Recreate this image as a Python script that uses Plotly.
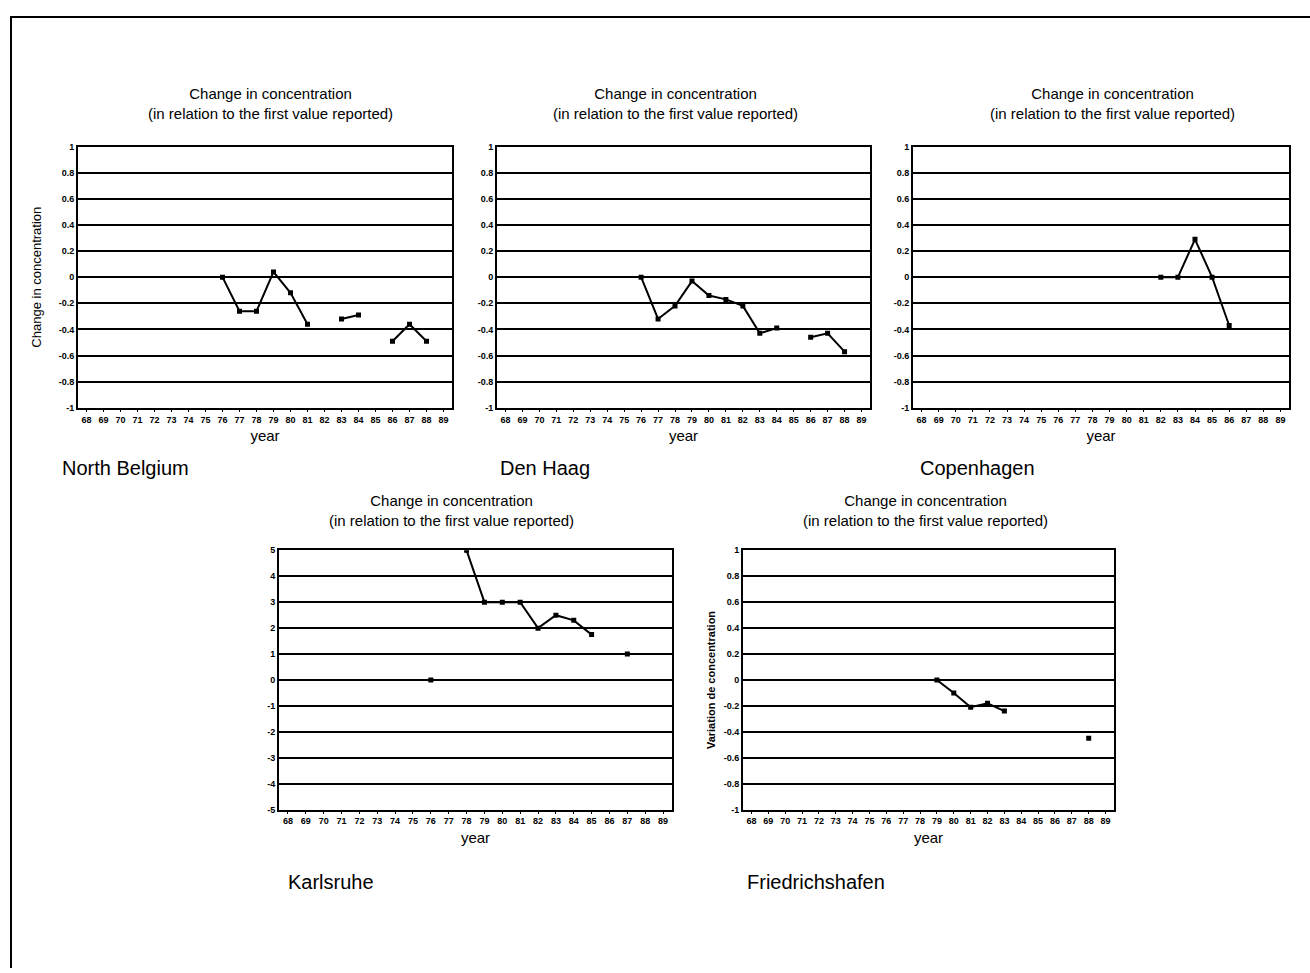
import plotly.graph_objects as go

years = list(range(68, 90))
year_labels = [str(y) for y in years]

nb_years = [76, 77, 78, 79, 80, 81, 82, 83, 84, 85, 86, 87, 88]
nb_vals = [0.0, -0.26, -0.26, 0.04, -0.12, -0.36, None, -0.32, -0.29, None, -0.49, -0.36, -0.49]

dh_years = [76, 77, 78, 79, 80, 81, 82, 83, 84, 85, 86, 87, 88]
dh_vals = [0.0, -0.32, -0.22, -0.03, -0.14, -0.17, -0.22, -0.43, -0.39, None, -0.46, -0.43, -0.57]

cp_years = [82, 83, 84, 85, 86]
cp_vals = [0.0, 0.0, 0.29, 0.0, -0.37]

ka_years = [76, 77, 78, 79, 80, 81, 82, 83, 84, 85, 86, 87]
ka_vals = [0.0, None, 5.0, 3.0, 3.0, 3.0, 2.0, 2.5, 2.3, 1.75, None, 1.0]

fr_years = [79, 80, 81, 82, 83, 84, 85, 86, 87, 88]
fr_vals = [0.0, -0.1, -0.21, -0.18, -0.24, None, None, None, None, -0.45]

small_ticks = [1, 0.8, 0.6, 0.4, 0.2, 0, -0.2, -0.4, -0.6, -0.8, -1]
small_ticktext = ["1", "0.8", "0.6", "0.4", "0.2", "0", "-0.2", "-0.4", "-0.6", "-0.8", "-1"]
big_ticks = [5, 4, 3, 2, 1, 0, -1, -2, -3, -4, -5]
big_ticktext = ["5", "4", "3", "2", "1", "0", "-1", "-2", "-3", "-4", "-5"]

W, H = 1310, 973
FONT = "Liberation Sans"

# panel boxes in pixels: (left, right, top, bottom)
panels = [
    dict(name="North Belgium", x=nb_years, y=nb_vals, box=(78, 452, 143, 407), ticks="small",
         ytitle="Change in concentration", ysize=13, city=(60, 468), tcx=270, tgap=23),
    dict(name="Den Haag", x=dh_years, y=dh_vals, box=(497, 870, 143, 407), ticks="small",
         ytitle=None, ysize=0, city=(498, 468), tcx=675, tgap=23),
    dict(name="Copenhagen", x=cp_years, y=cp_vals, box=(913, 1289, 143, 407), ticks="small",
         ytitle=None, ysize=0, city=(918, 468), tcx=1112, tgap=23),
    dict(name="Karlsruhe", x=ka_years, y=ka_vals, box=(279, 672, 551, 813), ticks="big",
         ytitle=None, ysize=0, city=(286, 886), tcx=452, tgap=20),
    dict(name="Friedrichshafen", x=fr_years, y=fr_vals, box=(743, 1114, 551, 813), ticks="small",
         ytitle="Variation de concentration", ysize=11, city=(745, 886), tcx=925, tgap=20),
]

fig = go.Figure()
layout = dict(
    width=W, height=H, margin=dict(l=0, r=0, t=0, b=0),
    paper_bgcolor="white", plot_bgcolor="white", showlegend=False,
    font=dict(family=FONT, color="black"),
)
annotations = []
shapes = []

for i, p in enumerate(panels):
    n = "" if i == 0 else str(i + 1)
    xa, ya = "x" + n, "y" + n
    l, r, t, b = p["box"]
    fig.add_trace(go.Scatter(
        x=p["x"], y=p["y"], xaxis=xa, yaxis=ya, mode="lines+markers",
        connectgaps=False,
        line=dict(color="black", width=2),
        marker=dict(symbol="square", size=5, color="black"),
        hoverinfo="x+y",
    ))
    if p["ticks"] == "small":
        tv, tt, rng = small_ticks, small_ticktext, [-1, 1]
    else:
        tv, tt, rng = big_ticks, big_ticktext, [-5, 5]
    layout["xaxis" + n] = dict(
        domain=[l / W, r / W], anchor=ya, range=[67.5, 89.5],
        tickvals=years, ticktext=year_labels,
        tickfont=dict(size=9, family=FONT, weight=700),
        showgrid=False, zeroline=False, showline=True, linecolor="black", linewidth=2,
        mirror=True, ticks="outside", ticklen=2, tickcolor="black",
        title=dict(text="year", font=dict(size=15, family=FONT), standoff=7),
        fixedrange=True,
    )
    layout["yaxis" + n] = dict(
        domain=[1 - b / H, 1 - t / H], anchor=xa, range=rng,
        tickvals=tv, ticktext=tt,
        tickfont=dict(size=9, family=FONT, weight=700),
        showgrid=True, gridcolor="black", gridwidth=1.5,
        zeroline=False, showline=True, linecolor="black", linewidth=2, mirror=True,
        ticks="", fixedrange=True,
    )
    if p["ytitle"]:
        layout["yaxis" + n]["title"] = dict(
            text=p["ytitle"],
            font=dict(size=p["ysize"], family=FONT, weight=700 if i == 4 else 400),
            standoff=14 if i == 0 else 6,
        )
    annotations.append(dict(
        x=p["tcx"] / W, y=1 - (t - p["tgap"]) / H, xref="paper", yref="paper",
        xanchor="center", yanchor="bottom", showarrow=False,
        text="Change in concentration<br>(in relation to the first value reported)",
        font=dict(size=15, family=FONT),
    ))
    annotations.append(dict(
        x=p["city"][0] / W, y=1 - p["city"][1] / H, xref="paper", yref="paper",
        xanchor="left", yanchor="middle", showarrow=False,
        text=p["name"], font=dict(size=20, family=FONT),
    ))

# page frame (top and left edges)
shapes.append(dict(type="line", xref="paper", yref="paper", x0=10 / W, x1=1, y0=1 - 12 / H, y1=1 - 12 / H,
                   line=dict(color="black", width=2)))
shapes.append(dict(type="line", xref="paper", yref="paper", x0=11 / W, x1=11 / W, y0=0, y1=1 - 12 / H,
                   line=dict(color="black", width=2)))

layout["annotations"] = annotations
layout["shapes"] = shapes
fig.update_layout(**layout)
fig.write_html("out.html")
